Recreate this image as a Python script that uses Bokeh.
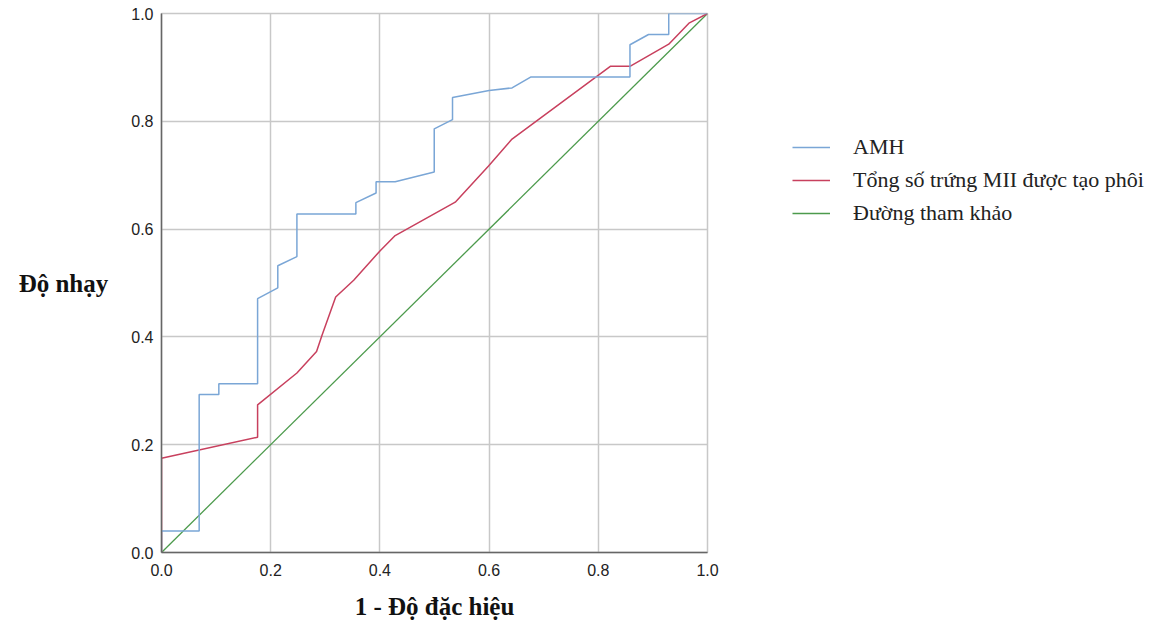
from bokeh.plotting import figure
from bokeh.layouts import row
from bokeh.models import Range1d, Legend, LegendItem, FixedTicker, PrintfTickFormatter, LinearAxis
from bokeh.embed import file_html
from bokeh.resources import INLINE

# ROC data
amh_fpr = [0.0, 0.0, 0.069, 0.069, 0.105, 0.105, 0.176, 0.176, 0.213, 0.213, 0.248, 0.248,
           0.356, 0.356, 0.393, 0.393, 0.428, 0.4995, 0.4995, 0.533, 0.533, 0.600, 0.642,
           0.676, 0.858, 0.858, 0.892, 0.929, 0.929, 1.0]
amh_tpr = [0.0, 0.040, 0.040, 0.293, 0.293, 0.313, 0.313, 0.471, 0.491, 0.532, 0.549, 0.628,
           0.628, 0.649, 0.667, 0.688, 0.688, 0.706, 0.786, 0.803, 0.844, 0.857, 0.862,
           0.882, 0.882, 0.942, 0.961, 0.961, 1.0, 1.0]

mii_fpr = [0.0, 0.0, 0.176, 0.176, 0.248, 0.284, 0.294, 0.319, 0.352, 0.4005, 0.428, 0.538,
           0.599, 0.642, 0.822, 0.858, 0.929, 0.966, 1.0]
mii_tpr = [0.0, 0.175, 0.214, 0.274, 0.333, 0.373, 0.403, 0.474, 0.505, 0.560, 0.588, 0.650,
           0.717, 0.767, 0.902, 0.902, 0.943, 0.982, 1.0]

ref_fpr = [0.0, 1.0]
ref_tpr = [0.0, 1.0]

ticks = [0.0, 0.2, 0.4, 0.6, 0.8, 1.0]
series_names = ["AMH", "Tổng số trứng MII được tạo phôi", "Đường tham khảo"]
series_colors = ["#7aa6d6", "#c8405e", "#4c9a4c"]
x_title = "1 - Độ đặc hiệu"
y_title = "Độ nhạy"

p = figure(width=719, height=622, output_backend="svg", toolbar_location=None,
           x_range=Range1d(0, 1), y_range=Range1d(0, 1),
           min_border_left=161, min_border_right=12, min_border_top=13, min_border_bottom=70)
p.background_fill_color = "white"
p.border_fill_color = "white"
p.outline_line_color = "#c8c8c8"
p.outline_line_width = 1.5

for ax in (p.xaxis[0], p.yaxis[0]):
    ax.ticker = FixedTicker(ticks=ticks)
    ax.formatter = PrintfTickFormatter(format="%.1f")
    ax.major_tick_out = 0
    ax.major_tick_in = 0
    ax.minor_tick_out = 0
    ax.minor_tick_in = 0
    ax.axis_line_color = "#666666"
    ax.axis_line_width = 1.5
    ax.major_label_text_font = "Liberation Sans"
    ax.major_label_text_font_size = "16px"
    ax.major_label_text_color = "#222222"
    ax.axis_label_text_font = "Liberation Serif"
    ax.axis_label_text_font_size = "25px"
    ax.axis_label_text_font_style = "bold"
    ax.axis_label_text_color = "#111111"
p.xaxis[0].major_label_standoff = 11
p.yaxis[0].major_label_standoff = 8
p.xaxis[0].axis_label = x_title
p.xaxis[0].axis_label_standoff = 14
p.yaxis[0].axis_label = y_title
p.yaxis[0].axis_label_standoff = 20
if "axis_label_orientation" in LinearAxis.properties():
    p.yaxis[0].axis_label_orientation = "horizontal"

p.xgrid.ticker = FixedTicker(ticks=ticks)
p.ygrid.ticker = FixedTicker(ticks=ticks)
p.grid.grid_line_color = "#c8c8c8"
p.grid.grid_line_width = 1.5

p.line(ref_fpr, ref_tpr, line_color=series_colors[2], line_width=1.3)
p.line(mii_fpr, mii_tpr, line_color=series_colors[1], line_width=1.5)
p.line(amh_fpr, amh_tpr, line_color=series_colors[0], line_width=1.5)

# legend panel (separate figure to the right, holding only the legend;
# its ranges keep the series' own lines out of view so only the legend shows)
lg = figure(width=435, height=622, output_backend="svg", toolbar_location=None,
            x_range=Range1d(-3, -2), y_range=Range1d(-3, -2),
            min_border_left=0, min_border_right=0, min_border_top=0, min_border_bottom=0)
lg.axis.visible = False
lg.grid.visible = False
lg.outline_line_color = None
lg.background_fill_color = "white"
lg.border_fill_color = "white"
widths = [1.5, 1.5, 1.3]
xs_all = [amh_fpr, mii_fpr, ref_fpr]
ys_all = [amh_tpr, mii_tpr, ref_tpr]
items = []
for name, col, w, xs, ys in zip(series_names, series_colors, widths, xs_all, ys_all):
    r = lg.line(x=xs, y=ys, line_color=col, line_width=w)
    items.append(LegendItem(label=name, renderers=[r]))

legend = Legend(items=items, location=(73, 326))
legend.border_line_color = None
legend.background_fill_alpha = 0
legend.padding = 0
legend.margin = 0
legend.glyph_width = 38
legend.glyph_height = 26
legend.label_height = 26
legend.spacing = 7
legend.label_standoff = 23
legend.label_text_font = "Liberation Serif"
legend.label_text_font_size = "22px"
legend.label_text_color = "#222222"
lg.add_layout(legend, "center")

layout = row(p, lg)
open("out.html", "w").write(file_html(layout, INLINE))
